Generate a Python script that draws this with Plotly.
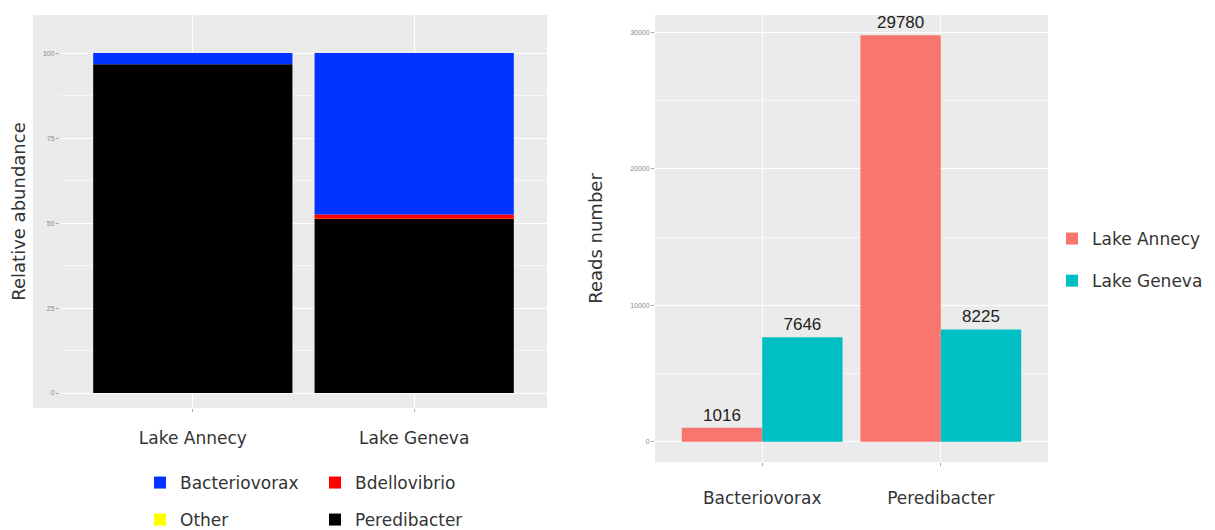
import numpy as np
import plotly.graph_objects as go

# ---------------- data ----------------
lakes = ["Lake Annecy", "Lake Geneva"]
genera_stack = ["Peredibacter", "Other", "Bdellovibrio", "Bacteriovorax"]  # bottom -> top
rel_abund = {
    "Bacteriovorax": [3.3, 47.5],
    "Bdellovibrio": [0.0, 1.2],
    "Other": [0.0, 0.1],
    "Peredibacter": [96.7, 51.2],
}
genus_colors = {
    "Bacteriovorax": "#0033FF",
    "Bdellovibrio": "#FF0000",
    "Other": "#FFFF00",
    "Peredibacter": "#000000",
}
genus_legend = {
    "Bacteriovorax": ("legend", 1),
    "Bdellovibrio": ("legend", 2),
    "Other": ("legend3", 1),
    "Peredibacter": ("legend3", 2),
}

read_genera = ["Bacteriovorax", "Peredibacter"]
reads_annecy = [1016, 29780]
reads_geneva = [7646, 8225]
lake_colors = ["#F8766D", "#00BFC4"]

left_yticks = [0, 25, 50, 75, 100]
right_yticks = [0, 10000, 20000, 30000]

W, H = 1215, 538
REF_H = 530
def px_x(p): return p / W
def px_y(p): return 1 - p / REF_H

fig = go.Figure()

# ---------- left: stacked relative abundance ----------
base = np.zeros(len(lakes))
for g in genera_stack:
    vals = np.array(rel_abund[g], dtype=float)
    lg, rank = genus_legend[g]
    fig.add_trace(go.Bar(
        x=lakes, y=vals, base=base.copy(), name=g,
        marker=dict(color=genus_colors[g], line=dict(width=0)),
        width=0.9, xaxis="x", yaxis="y",
        legend=lg, legendrank=rank, showlegend=True,
    ))
    base = base + vals

# ---------- right: grouped reads ----------
for name, vals, col, off, grp in [("Lake Annecy", reads_annecy, lake_colors[0], -0.45, "a"),
                                   ("Lake Geneva", reads_geneva, lake_colors[1], 0.0, "b")]:
    fig.add_trace(go.Bar(
        x=read_genera, y=vals, name=name,
        marker=dict(color=col, line=dict(width=0)),
        width=0.45, offset=off, xaxis="x2", yaxis="y2",
        text=[str(v) for v in vals], textposition="outside",
        textfont=dict(family="Liberation Sans", size=17, color="#222"),
        cliponaxis=False, legend="legend2", legendgroup=grp,
    ))

tickfont = dict(family="Liberation Sans", size=7, color="#8a8a8a")
catfont = dict(family="DejaVu Sans", size=17, color="#333")
titlefont = dict(family="DejaVu Sans", size=18, color="#333")
grid = dict(showgrid=True, gridcolor="white", gridwidth=1.2)
minor = dict(showgrid=True, gridcolor="#F6F6F6", gridwidth=0.6)

fig.update_layout(
    width=W, height=H,
    margin=dict(l=0, r=0, t=0, b=0),
    paper_bgcolor="white", plot_bgcolor="#EBEBEB",
    barmode="overlay", bargap=0.1,
    font=dict(family="DejaVu Sans", color="#333"),
    xaxis=dict(domain=[px_x(60), px_x(547)], anchor="y", type="category",
               range=[-0.6, 1.6], ticks="outside", ticklen=3, tickcolor="#aaa",
               tickfont=catfont, ticklabelstandoff=12, zeroline=False, **grid),
    yaxis=dict(domain=[px_y(408), px_y(15)], anchor="x", range=[-4.4, 111.2],
               tickvals=left_yticks, ticks="outside", ticklen=3, tickcolor="#aaa",
               tickfont=tickfont, zeroline=False,
               minor=dict(dtick=12.5, tick0=0, **minor),
               title=dict(text="Relative abundance", font=titlefont, standoff=12), **grid),
    xaxis2=dict(domain=[px_x(655), px_x(1048)], anchor="y2", type="category",
                range=[-0.6, 1.6], ticks="outside", ticklen=3, tickcolor="#aaa",
                tickfont=catfont, ticklabelstandoff=18, zeroline=False, **grid),
    yaxis2=dict(domain=[px_y(462), px_y(15)], anchor="x2", range=[-1489, 31269],
                tickvals=right_yticks, tickformat="d", ticks="outside", ticklen=3,
                tickcolor="#aaa", tickfont=tickfont, zeroline=False,
                minor=dict(dtick=5000, tick0=0, **minor),
                title=dict(text="Reads number", font=titlefont, standoff=22), **grid),
    legend=dict(orientation="h", x=px_x(140), xanchor="left", y=px_y(465), yanchor="top",
                entrywidth=130, font=dict(family="DejaVu Sans", size=17, color="#333"),
                bgcolor="rgba(0,0,0,0)", traceorder="normal"),
    legend3=dict(orientation="h", x=px_x(140), xanchor="left", y=px_y(502), yanchor="top",
                 entrywidth=130, font=dict(family="DejaVu Sans", size=17, color="#333"),
                 bgcolor="rgba(0,0,0,0)", traceorder="normal"),
    legend2=dict(orientation="v", x=px_x(1052), xanchor="left", y=px_y(221), yanchor="top",
                 tracegroupgap=17, font=dict(family="DejaVu Sans", size=17, color="#333"),
                 bgcolor="rgba(0,0,0,0)"),
    shapes=[dict(type="rect", xref="paper", yref="paper", layer="below",
                 x0=px_x(33), x1=px_x(60), y0=px_y(408), y1=px_y(15),
                 fillcolor="#EBEBEB", line=dict(width=0))],
)

fig.write_html("out.html", config={"displayModeBar": False},
               post_script="document.body.style.margin='0';")
